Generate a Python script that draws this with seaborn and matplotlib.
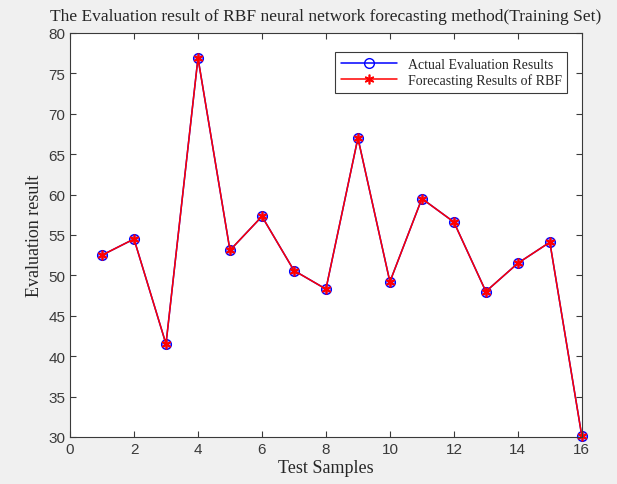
import numpy as np
import pandas as pd
import matplotlib
matplotlib.use('Agg')
import matplotlib.pyplot as plt
import seaborn as sns

samples = list(range(1, 17))
actual = [52.5, 54.5, 41.5, 76.9, 53.1, 57.3, 50.6, 48.3, 67.0, 49.2, 59.5, 56.6, 48.0, 51.5, 54.1, 30.1]
forecast = [52.5, 54.5, 41.5, 76.9, 53.1, 57.3, 50.6, 48.3, 67.0, 49.2, 59.5, 56.6, 48.0, 51.5, 54.1, 30.1]
x_ticks = list(range(0, 17, 2))
y_ticks = list(range(30, 81, 5))

df = pd.DataFrame({'sample': samples, 'actual': actual, 'forecast': forecast})

sns.set_style('ticks')
plt.rcParams['font.family'] = ['Liberation Sans', 'DejaVu Sans']

fig = plt.figure(figsize=(6.17, 4.85), dpi=100, facecolor='#f0f0f0')
ax = fig.add_axes([0.1135, 0.097, 0.8295, 0.833])
ax.set_facecolor('white')

sns.lineplot(data=df, x='sample', y='actual', ax=ax, color='blue', lw=1.1,
             marker='o', markersize=7, markerfacecolor='#9c90ff', markeredgecolor='blue',
             markeredgewidth=1.0, label='Actual Evaluation Results', clip_on=False)
sns.lineplot(data=df, x='sample', y='forecast', ax=ax, color='red', lw=1.1,
             marker=(6, 2, 0), markersize=7, markeredgecolor='red', markeredgewidth=1.2,
             label='Forecasting Results of RBF', clip_on=False)

ax.set_xlim(0, 16)
ax.set_ylim(30, 80)
ax.set_xticks(x_ticks)
ax.set_yticks(y_ticks)
ax.tick_params(direction='in', top=True, right=True, length=4, labelsize=11, colors='#3a3a3a')
for s in ax.spines.values():
    s.set_visible(True)
    s.set_color('#3a3a3a')
    s.set_linewidth(0.8)

serif = ['Liberation Serif', 'DejaVu Serif']
ax.set_xlabel('Test Samples', family=serif, fontsize=13, labelpad=2)
ax.set_ylabel('Evaluation result', family=serif, fontsize=13, labelpad=4)
ax.set_title('The Evaluation result of RBF neural network forecasting method(Training Set)',
             family=serif, fontsize=12.5, pad=9)

leg = ax.legend(loc='upper right', prop={'family': serif, 'size': 10}, fancybox=False,
                edgecolor='#3a3a3a', framealpha=1, borderpad=0.4, handlelength=4,
                labelspacing=0.2, bbox_to_anchor=(0.985, 0.97))
leg.get_frame().set_linewidth(0.8)
for h in leg.legend_handles[:1]:
    h.set_markerfacecolor('none')

fig.savefig('out.png', dpi=100, facecolor=fig.get_facecolor())
plt.close(fig)
